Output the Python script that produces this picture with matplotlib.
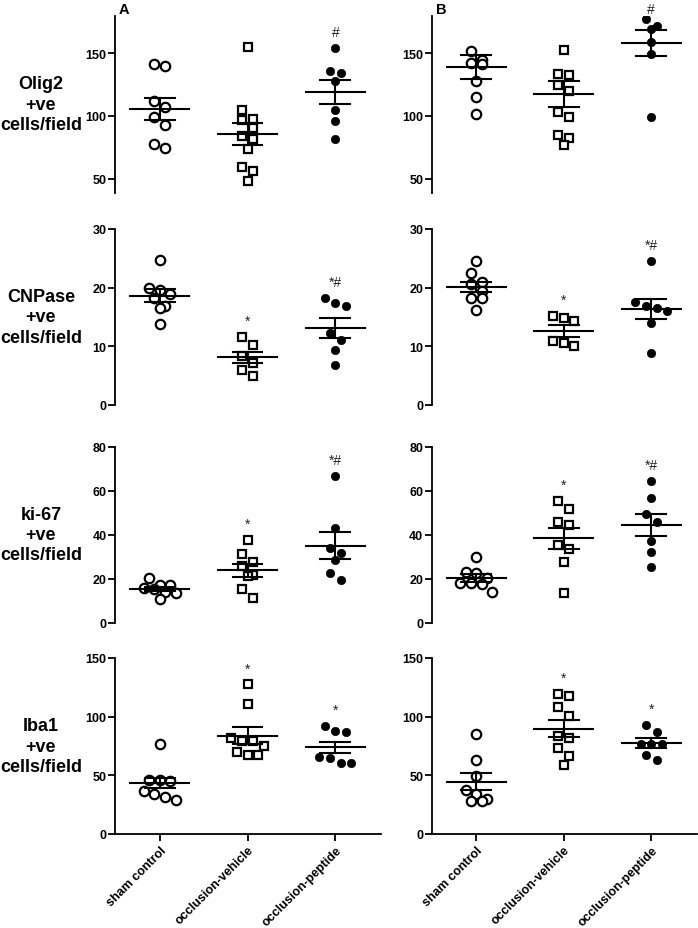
import matplotlib
matplotlib.use("Agg")
import matplotlib.pyplot as plt
import numpy as np

plt.rcParams['font.family'] = ['Liberation Sans', 'DejaVu Sans']

groups = ['sham control', 'occlusion-vehicle', 'occlusion-peptide']
row_labels = ['Olig2\n+ve\ncells/field', 'CNPase\n+ve\ncells/field',
              'ki-67\n+ve\ncells/field', 'Iba1\n+ve\ncells/field']
panel_letters = ['A', 'B']

# per-animal counts: [sham, vehicle, peptide]
olig2_A = [[141, 140, 112, 107, 99.5, 93, 78, 74.5],
           [155, 104.5, 97.3, 96.8, 90, 84.1, 82, 74, 59.4, 56.2, 48.3],
           [154, 136, 134, 128, 105, 96, 81.5]]
olig2_A_mean = [105.6, 85.7, 119.1]
olig2_A_sem = [8.8, 8.7, 9.8]

olig2_B = [[151.6, 144.6, 142, 141.4, 128.1, 115.2, 101.3],
           [152.6, 133.4, 132.6, 124.9, 119.5, 103.5, 99.2, 84.8, 82.6, 77.2],
           [177, 171.4, 169, 158.8, 149, 99.4]]
olig2_B_mean = [139.3, 117.3, 158.0]
olig2_B_sem = [9.5, 10.3, 10.5]

cnpase_A = [[24.7, 20.0, 19.6, 19.0, 18.2, 16.9, 16.5, 13.75],
            [11.6, 10.2, 8.4, 7.2, 6.0, 5.0],
            [18.2, 17.4, 16.9, 12.3, 11.1, 9.3, 6.8]]
cnpase_A_mean = [18.6, 8.1, 13.1]
cnpase_A_sem = [1.1, 1.0, 1.7]

cnpase_B = [[24.5, 22.5, 21.0, 20.7, 19.4, 18.2, 18.2, 16.2],
            [15.2, 14.8, 14.3, 10.9, 10.5, 10.1],
            [24.5, 17.5, 16.9, 16.5, 16.0, 14.0, 8.8]]
cnpase_B_mean = [20.1, 12.6, 16.4]
cnpase_B_sem = [0.9, 1.0, 1.75]

ki67_A = [[20.3, 17.1, 17.1, 15.6, 15.3, 14.1, 13.5, 10.8],
          [37.7, 31.2, 27.7, 25.8, 21.7, 21.4, 15.5, 11.4],
          [66.5, 43.2, 33.8, 31.7, 28.6, 22.6, 19.2]]
ki67_A_mean = [15.3, 23.9, 35.0]
ki67_A_sem = [1.0, 3.0, 6.1]

ki67_B = [[29.7, 23.2, 22.6, 20.2, 18.2, 18.0, 17.6, 13.9],
          [55.3, 51.5, 45.6, 44.2, 35.3, 33.3, 27.7, 13.3],
          [64.5, 56.5, 49.4, 45.6, 37.3, 32.0, 25.2]]
ki67_B_mean = [20.4, 38.3, 44.4]
ki67_B_sem = [1.7, 4.9, 5.2]

iba1_A = [[76.4, 46, 46, 45.2, 36.9, 34.1, 31.5, 29.3],
          [127.6, 110.8, 81.8, 79.5, 79, 74.7, 70.2, 67.3, 67.3],
          [92.3, 88.0, 87.2, 65.4, 64.5, 60.5, 60.5]]
iba1_A_mean = [43.5, 83.8, 73.9]
iba1_A_sem = [4.6, 7.0, 4.6]

iba1_B = [[85.2, 63.4, 49.1, 37.8, 34.4, 29.8, 28.1, 28.1],
          [119.3, 117.9, 108, 100.3, 83.2, 81.8, 73, 66.2, 59.1],
          [92.9, 87.2, 76.7, 76.7, 76.7, 67.3, 63.4]]
iba1_B_mean = [44.6, 89.8, 77.6]
iba1_B_sem = [7.2, 7.5, 4.0]

olig2_sig = ['', '', '#']
cnpase_sig = ['', '*', '*#']
ki67_sig = ['', '*', '*#']
iba1_sig = ['', '*', '*']

rows = [
    (olig2_A, olig2_A_mean, olig2_A_sem, olig2_B, olig2_B_mean, olig2_B_sem, olig2_sig),
    (cnpase_A, cnpase_A_mean, cnpase_A_sem, cnpase_B, cnpase_B_mean, cnpase_B_sem, cnpase_sig),
    (ki67_A, ki67_A_mean, ki67_A_sem, ki67_B, ki67_B_mean, ki67_B_sem, ki67_sig),
    (iba1_A, iba1_A_mean, iba1_A_sem, iba1_B, iba1_B_mean, iba1_B_sem, iba1_sig),
]

ylims = [(39, 180), (0, 30), (0, 80), (0, 150)]
yticks = [[50, 100, 150], [0, 10, 20, 30], [0, 20, 40, 60, 80], [0, 50, 100, 150]]

W, H = 698, 929
row_px = [(16.5, 193.5), (230, 406), (447.7, 623.7), (659, 835)]
col_px = [(115, 381), (431.7, 696.7)]

markers = [dict(marker='o', ms=6.8, mfc='white', mec='black', mew=1.6),
           dict(marker='s', ms=6.2, mfc='white', mec='black', mew=1.6),
           dict(marker='o', ms=6.0, mfc='black', mec='black', mew=0.5)]


def swarm_offsets(vals, ax, marker_px=9.5, step=0.122):
    # GraphPad-like scatter: points that would overlap go side by side
    vals = np.asarray(vals, dtype=float)
    lo, hi = ax.get_ylim()
    thresh = marker_px * (hi - lo) / ax.bbox.height
    order = np.argsort(-vals, kind='stable')
    offs = np.zeros(len(vals))
    row = []

    def place(r):
        k = len(r)
        for i, idx in enumerate(r):
            offs[idx] = (i - (k - 1) / 2) * step

    for idx in order:
        if row and vals[row[0]] - vals[idx] >= thresh:
            place(row)
            row = []
        row.append(idx)
    place(row)
    return offs


fig = plt.figure(figsize=(W / 100, H / 100), dpi=100)

for r, (dA, mA, sA, dB, mB, sB, sig) in enumerate(rows):
    top, bot = row_px[r]
    for c, (data, means, sems) in enumerate([(dA, mA, sA), (dB, mB, sB)]):
        x0, x1 = col_px[c]
        ax = fig.add_axes([x0 / W, 1 - bot / H, (x1 - x0) / W, (bot - top) / H])
        ax.set_xlim(-0.51, 2.52)
        ax.set_ylim(*ylims[r])
        ax.set_yticks(yticks[r])
        for sp in ['top', 'right']:
            ax.spines[sp].set_visible(False)
        ax.spines['left'].set_linewidth(1.3)
        ax.spines['bottom'].set_linewidth(1.3)
        ax.tick_params(axis='y', length=5, width=1.3, pad=1, labelsize=9)
        for lab in ax.get_yticklabels():
            lab.set_fontweight('bold')
        if r < 3:
            ax.spines['bottom'].set_visible(False)
            ax.set_xticks([])
        else:
            ax.set_xticks(range(3))
            ax.set_xticklabels(groups, rotation=45, ha='right', va='top',
                               rotation_mode='anchor', fontsize=9, fontweight='bold')
            ax.tick_params(axis='x', length=5, width=1.3, pad=2)

        for g in range(3):
            vals = data[g]
            xs = g + swarm_offsets(vals, ax)
            ax.plot(xs, vals, linestyle='none', zorder=2, **markers[g])
            m, s = means[g], sems[g]
            ax.plot([g - 0.335, g + 0.335], [m, m], color='black', lw=1.5, zorder=3)
            ax.plot([g, g], [m - s, m + s], color='black', lw=1.5, zorder=3)
            ax.plot([g - 0.17, g + 0.17], [m + s, m + s], color='black', lw=1.5, zorder=3)
            ax.plot([g - 0.17, g + 0.17], [m - s, m - s], color='black', lw=1.5, zorder=3)
            if sig[g]:
                ytop = ax.transData.transform((g, max(vals)))[1]
                off_px = min(16, H - ytop - 10)
                ax.annotate(sig[g], xy=(g, max(vals)), xytext=(0, off_px * 0.72),
                            textcoords='offset points', ha='center', va='center',
                            fontsize=10, color='#222222', annotation_clip=False)

        if r == 0:
            fig.text((x0 + 4) / W, 1 - 10 / H, panel_letters[c], ha='left', va='center',
                     fontsize=10.5, fontweight='bold')

    fig.text(41 / W, 1 - (top + bot) / 2 / H, row_labels[r], ha='center', va='center',
             fontsize=13, fontweight='bold', linespacing=1.25)

fig.savefig('out.png', dpi=100)
